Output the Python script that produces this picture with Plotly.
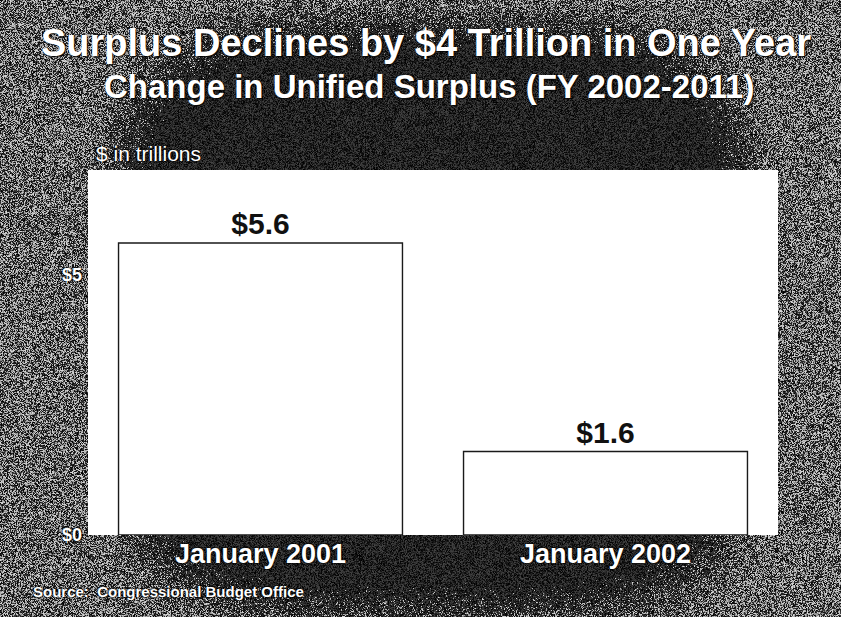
import base64
import struct
import zlib

import numpy as np
import plotly.graph_objects as go

# ---- data -------------------------------------------------------------
categories = ["January 2001", "January 2002"]
surplus_trillions = [5.6, 1.6]
y_tick_values = [0, 5]
y_tick_labels = ["$0", "$5"]

title_text = "Surplus Declines by $4 Trillion in One Year"
subtitle_text = "Change in Unified Surplus (FY 2002-2011)"
unit_text = "$ in trillions"
source_text = "Source:  Congressional Budget Office"

# ---- canvas geometry --------------------------------------------------
W, H = 841, 617
M_L, M_R, M_T, M_B = 88, 63, 170, 82
PW, PH = W - M_L - M_R, H - M_T - M_B


def px_x(px):
    return (px - M_L) / PW


def px_y(py):
    return (H - M_B - py) / PH


# ---- grainy slide backdrop (dark centre, grey speckled edges) --------
def gray_png(arr):
    h, w = arr.shape
    raw = b"".join(b"\x00" + arr[i].tobytes() for i in range(h))

    def chunk(tag, data):
        return (struct.pack(">I", len(data)) + tag + data
                + struct.pack(">I", zlib.crc32(tag + data) & 0xFFFFFFFF))

    return (b"\x89PNG\r\n\x1a\n"
            + chunk(b"IHDR", struct.pack(">IIBBBBB", w, h, 8, 0, 0, 0, 0))
            + chunk(b"IDAT", zlib.compress(raw, 9))
            + chunk(b"IEND", b""))


rng = np.random.default_rng(7)
yy, xx = np.mgrid[0:H, 0:W].astype(float)
n = 4.0
r = ((np.abs(xx - 432) / 360) ** n + (np.abs(yy - 318) / 330) ** n) ** (1 / n)
t = np.clip((r - 0.80) / (1.0 - 0.80), 0, 1)
p = 0.48 * t * t * (3 - 2 * t)
u = rng.random((H, W))
speck = np.where(u < p, 125 + 95 * rng.random((H, W)), 70 * rng.random((H, W)))
tex = np.clip(speck, 0, 255).astype(np.uint8)
bg_uri = "data:image/png;base64," + base64.b64encode(gray_png(tex)).decode()

FONT = "Liberation Sans, Arial, sans-serif"
HALO = "0px 0px 3px black, 0px 0px 2px black"

fig = go.Figure(
    go.Bar(
        x=categories,
        y=surplus_trillions,
        marker=dict(color="white", line=dict(color="#1a1a1a", width=1.4)),
        text=surplus_trillions,
        texttemplate="$%{y:.1f}",
        textposition="outside",
        cliponaxis=False,
        textfont=dict(family=FONT, size=30, color="#111111", weight="bold"),
        hoverinfo="skip",
    )
)

fig.update_layout(
    width=W,
    height=H,
    margin=dict(l=M_L, r=M_R, t=M_T, b=M_B),
    paper_bgcolor="#555555",
    plot_bgcolor="white",
    showlegend=False,
    bargap=0.177,
    images=[dict(
        source=bg_uri, xref="paper", yref="paper",
        x=-M_L / PW, y=1 + M_T / PH, sizex=W / PW, sizey=H / PH,
        xanchor="left", yanchor="top", sizing="stretch", layer="below",
    )],
    # white chart panel laid over the textured backdrop
    shapes=[dict(type="rect", xref="paper", yref="paper", x0=0, x1=1, y0=0, y1=1,
                 fillcolor="white", line=dict(width=0), layer="below")],
    xaxis=dict(
        showgrid=False, zeroline=False, showline=False, ticks="",
        tickfont=dict(family=FONT, size=27, color="white", weight="bold", shadow=HALO),
    ),
    yaxis=dict(
        range=[0, 7], showgrid=False, zeroline=False, showline=False,
        ticks="", tickvals=y_tick_values, ticktext=y_tick_labels,
        ticklabelstandoff=5,
        tickfont=dict(family=FONT, size=18, color="white", weight="bold", shadow=HALO),
    ),
    annotations=[
        dict(text=title_text, x=px_x(426), y=px_y(43), xref="paper", yref="paper",
             xanchor="center", yanchor="middle", showarrow=False,
             font=dict(family=FONT, size=38, color="white", weight="bold",
                       shadow="1px 1px 2px black")),
        dict(text=subtitle_text, x=px_x(429), y=px_y(86), xref="paper", yref="paper",
             xanchor="center", yanchor="middle", showarrow=False,
             font=dict(family=FONT, size=33, color="white", weight="bold",
                       shadow="1px 1px 2px black")),
        dict(text=unit_text, x=px_x(94), y=px_y(153), xref="paper", yref="paper",
             xanchor="left", yanchor="middle", showarrow=False,
             font=dict(family=FONT, size=21, color="white", shadow=HALO)),
        dict(text=source_text, x=px_x(31), y=px_y(591), xref="paper", yref="paper",
             xanchor="left", yanchor="middle", showarrow=False,
             font=dict(family=FONT, size=15, color="white", weight="bold", shadow=HALO)),
    ],
)

fig.write_html("out.html")
